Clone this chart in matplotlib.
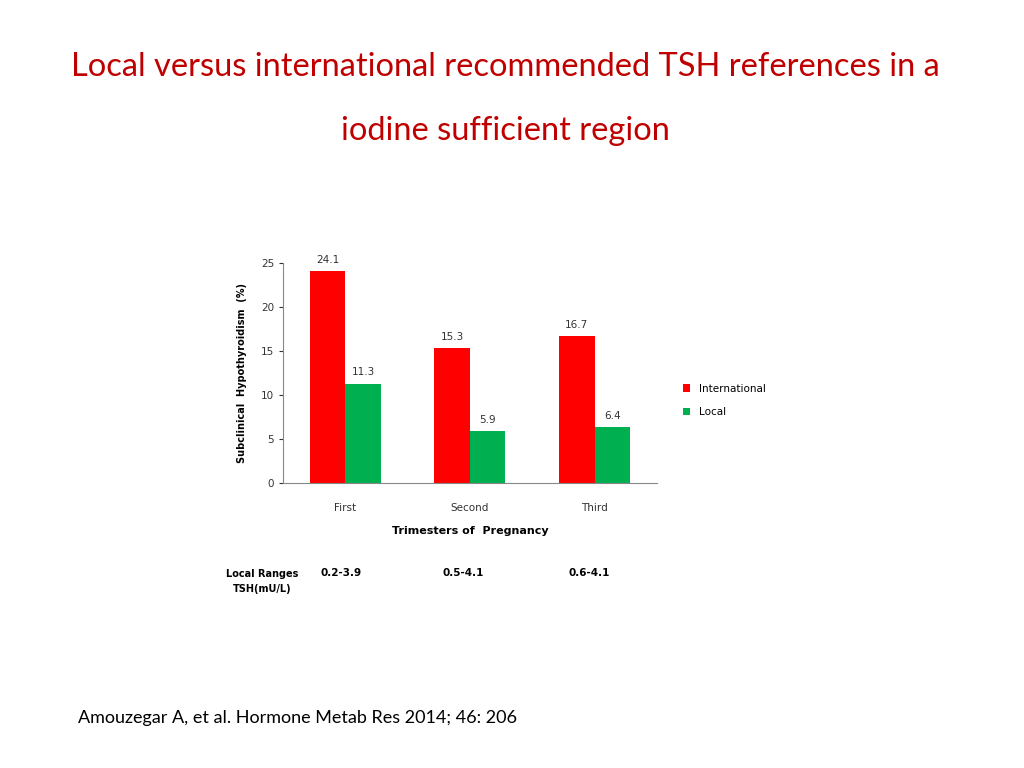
import matplotlib
matplotlib.use("Agg")
import matplotlib.pyplot as plt
import numpy as np

categories = ["First", "Second", "Third"]
international = [24.1, 15.3, 16.7]
local = [11.3, 5.9, 6.4]
ranges = ["0.2-3.9", "0.5-4.1", "0.6-4.1"]

fig = plt.figure(figsize=(10.24, 7.68), dpi=100)
fig.text(0.494, 0.913, "Local versus international recommended TSH references in a",
         ha="center", va="center", color="#C00000", fontsize=23.5, family="Lato")
fig.text(0.494, 0.830, "iodine sufficient region",
         ha="center", va="center", color="#C00000", fontsize=23.5, family="Lato")
fig.text(0.076, 0.065, "Amouzegar A, et al. Hormone Metab Res 2014; 46: 206",
         ha="left", va="center", color="black", fontsize=13, family="Lato")

ax = fig.add_axes([0.2764, 0.371, 0.365, 0.2865])
x = np.arange(len(categories))
w = 0.285
b1 = ax.bar(x - w/2, international, w, color="#FF0000", label="International")
b2 = ax.bar(x + w/2, local, w, color="#00B050", label="Local")
for bars, vals in ((b1, international), (b2, local)):
    for r, v in zip(bars, vals):
        ax.text(r.get_x() + r.get_width()/2, v + 0.7, f"{v}", ha="center",
                va="bottom", fontsize=7.5, color="#333333")
ax.set_xlim(-0.5, 2.5)
ax.set_ylim(0, 25)
ax.set_yticks([0, 5, 10, 15, 20, 25])
ax.set_xticks(x)
ax.set_xticklabels(categories)
ax.tick_params(labelsize=7.5, colors="#333333", length=3)
for s in ("top", "right"):
    ax.spines[s].set_visible(False)
for s in ("left", "bottom"):
    ax.spines[s].set_color("#888888")
ax.tick_params(axis="x", length=0, pad=14)
ax.set_xlabel("Trimesters of  Pregnancy", fontsize=8, fontweight="bold", labelpad=10)
ax.set_ylabel("Subclinical  Hypothyroidism  (%)", fontsize=7, fontweight="bold", labelpad=10)
ax.legend(loc="center left", bbox_to_anchor=(1.045, 0.375), frameon=False,
          fontsize=7.5, handlelength=0.7, handleheight=0.7, labelspacing=1.3)

fig.text(0.256, 0.243, "Local Ranges\nTSH(mU/L)", ha="center", va="center",
         fontsize=7, fontweight="bold", linespacing=1.6)
for xp, r in zip([0.333, 0.452, 0.575], ranges):
    fig.text(xp, 0.243 + 0.0115, r, ha="center", va="center", fontsize=7.5, fontweight="bold")

fig.savefig("out.png", dpi=100)
